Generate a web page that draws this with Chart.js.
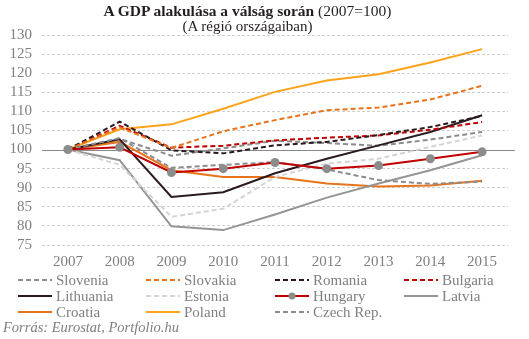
<!DOCTYPE html>
<html>
<head>
<meta charset="utf-8">
<script src="https://cdn.jsdelivr.net/npm/chart.js@4/dist/chart.umd.min.js"></script>
<style>
  html, body { margin: 0; padding: 0; background: #fff; }
  #wrap { position: relative; width: 529px; height: 339px; overflow: hidden; }
  #c { position: absolute; left: 0; top: 0; }
  .t { position: absolute; left: 0; width: 495px; text-align: center; font-family: "Liberation Serif", serif; color: #231f20; white-space: nowrap; }
  #title { top: 2px; font-size: 15.5px; }
  #title b { font-weight: bold; }
  #sub { top: 18px; font-size: 15px; }
  #src { position: absolute; left: 3px; top: 319px; font-family: "Liberation Serif", serif; font-style: italic; font-size: 14.5px; color: #7f7f7f; }
</style>
</head>
<body>
<div id="wrap">
  <canvas id="c" width="529" height="339"></canvas>
  <div class="t" id="title"><b>A GDP alakulása a válság során</b> (2007=100)</div>
  <div class="t" id="sub">(A régió országaiban)</div>
  <div id="src">Forrás: Eurostat, Portfolio.hu</div>
</div>
<script>
const years = ['2007','2008','2009','2010','2011','2012','2013','2014','2015'];
const yTicks = [75, 80, 85, 90, 95, 100, 105, 110, 115, 120, 125, 130];

const slovenia  = [100, 103.0, 95.2, 96.0, 96.7, 94.8, 92.0, 91.0, 91.6];
const slovakia  = [100, 105.8, 100.4, 104.8, 107.7, 110.3, 111.0, 113.1, 116.7];
const romania   = [100, 107.3, 99.8, 99.0, 101.1, 102.0, 103.8, 105.9, 108.8];
const bulgaria  = [100, 106.2, 100.5, 101.0, 102.4, 103.1, 103.7, 105.2, 107.2];
const lithuania = [100, 102.7, 87.6, 88.8, 93.8, 97.6, 101.1, 104.6, 109.0];
const estonia   = [100, 96.0, 82.4, 84.5, 92.8, 96.3, 97.6, 100.7, 103.7];
const hungary   = [100, 100.6, 94.0, 95.0, 96.6, 95.0, 95.8, 97.6, 99.4];
const latvia    = [100, 97.2, 79.9, 78.9, 83.0, 87.4, 91.1, 94.6, 98.5];
const croatia   = [100, 102.0, 94.6, 92.8, 92.8, 91.1, 90.3, 90.6, 91.8];
const poland    = [100, 105.3, 106.6, 110.7, 115.1, 118.1, 119.7, 122.8, 126.3];
const czech     = [100, 102.8, 98.4, 100.3, 102.3, 101.7, 101.0, 102.6, 104.6];

const DASH = [5, 3];
function ds(label, data, color, dashed, extra) {
  return Object.assign({
    label, data,
    borderColor: color,
    backgroundColor: color,
    borderWidth: 2,
    borderDash: dashed ? DASH : [],
    pointRadius: 0,
    tension: 0,
    fill: false,
    order: 1
  }, extra || {});
}

const datasets = [
  ds('Slovenia', slovenia, '#8c8c8c', true),
  ds('Slovakia', slovakia, '#e8731a', true),
  ds('Romania', romania, '#2a1a1e', true),
  ds('Bulgaria', bulgaria, '#c00000', true),
  ds('Lithuania', lithuania, '#2a1a1e', false),
  ds('Estonia', estonia, '#d4d4d4', true),
  ds('Hungary', hungary, '#c00000', false, { pointRadius: 4.5, pointBackgroundColor: '#8c8c8c', pointBorderColor: '#8c8c8c', pointBorderWidth: 0, order: 0 }),
  ds('Latvia', latvia, '#959595', false),
  ds('Croatia', croatia, '#e8731a', false),
  ds('Poland', poland, '#ffa31a', false),
  ds('Czech Rep.', czech, '#8c8c8c', true)
];

const baseLine = {
  id: 'baseLine',
  beforeDatasetsDraw(chart) {
    const ctx = chart.ctx, y = chart.scales.y.getPixelForValue(100), a = chart.chartArea;
    ctx.save();
    ctx.strokeStyle = '#8a8a8a';
    ctx.lineWidth = 1;
    ctx.beginPath();
    ctx.moveTo(a.left, Math.round(y) + 0.5);
    ctx.lineTo(a.right + 7, Math.round(y) + 0.5);
    ctx.stroke();
    ctx.restore();
  }
};

const gridLegend = {
  id: 'gridLegend',
  afterDraw(chart) {
    const ctx = chart.ctx;
    const colX = [18, 146, 275, 404];
    const rowY = [280, 296, 312];
    const lineLen = 34;
    ctx.save();
    chart.data.datasets.forEach((d, i) => {
      const x = colX[i % 4], y = rowY[Math.floor(i / 4)];
      ctx.strokeStyle = d.borderColor;
      ctx.lineWidth = 2;
      ctx.setLineDash(d.borderDash || []);
      ctx.beginPath();
      ctx.moveTo(x, y);
      ctx.lineTo(x + lineLen, y);
      ctx.stroke();
      ctx.setLineDash([]);
      if (d.pointRadius > 0) {
        ctx.fillStyle = d.pointBackgroundColor;
        ctx.beginPath();
        ctx.arc(x + lineLen / 2, y, 3.5, 0, Math.PI * 2);
        ctx.fill();
      }
      ctx.fillStyle = '#7f7f7f';
      ctx.font = '15px "Liberation Serif", serif';
      ctx.textBaseline = 'middle';
      ctx.textAlign = 'left';
      ctx.fillText(d.label, x + lineLen + 4, y + 1);
    });
    ctx.restore();
  }
};

new Chart(document.getElementById('c'), {
  type: 'line',
  data: { labels: years, datasets },
  plugins: [baseLine, gridLegend],
  options: {
    responsive: false,
    animation: false,
    layout: { padding: { top: 35, right: 21, bottom: 69, left: 0 } },
    plugins: {
      legend: { display: false },
      title: { display: false },
      tooltip: { enabled: false }
    },
    scales: {
      x: {
        offset: true,
        grid: { display: false, drawTicks: false },
        border: { display: false },
        ticks: { color: '#7f7f7f', font: { family: '"Liberation Serif", serif', size: 15 }, padding: 8, maxRotation: 0, autoSkip: false },
        afterFit(s) { s.height = 25; }
      },
      y: {
        min: 75, max: 130,
        afterBuildTicks(s) { s.ticks = yTicks.map(v => ({ value: v })); },
        grid: {
          drawTicks: false,
          color: c => (c.tick && c.tick.value === 100) ? 'rgba(0,0,0,0)' : '#cfcfcf',
          lineWidth: 1
        },
        border: { display: false, dash: [3, 2] },
        ticks: { color: '#7f7f7f', font: { family: '"Liberation Serif", serif', size: 15 }, padding: 10, autoSkip: false },
        afterFit(s) { s.width = 42; }
      }
    }
  }
});
</script>
</body>
</html>
